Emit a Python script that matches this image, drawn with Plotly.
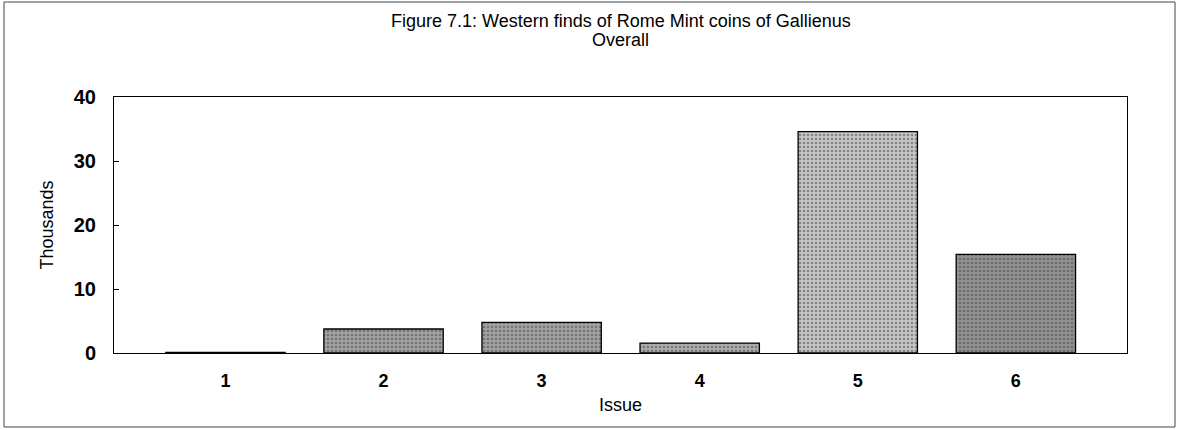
import plotly.graph_objects as go

issues = ["1", "2", "3", "4", "5", "6"]
finds_thousands = [0.1, 3.75, 4.8, 1.55, 34.6, 15.4]
bar_colors = ["#9a9a9a", "#a2a2a2", "#a2a2a2", "#acacac", "#c6c6c6", "#929292"]

title_line1 = "Figure 7.1: Western finds of Rome Mint coins of Gallienus"
title_line2 = "Overall"

font_main = "Arial, Liberation Sans, sans-serif"

fig = go.Figure(
    go.Bar(
        x=issues,
        y=finds_thousands,
        marker=dict(
            color=bar_colors,
            line=dict(color="black", width=1.3),
            pattern=dict(shape=".", fgcolor="#3a3a3a", size=4,
                         solidity=0.35, fillmode="overlay"),
        ),
    )
)

# two-line heading placed as annotations (plot area spans 114..1127 x 97..353 px)
fig.add_annotation(text=title_line1, xref="paper", yref="paper",
                   x=0.5, y=(353 - 21) / 256, xanchor="center", yanchor="middle",
                   showarrow=False, font=dict(family=font_main, size=18, color="black"))
fig.add_annotation(text=title_line2, xref="paper", yref="paper",
                   x=0.5, y=(353 - 40) / 256, xanchor="center", yanchor="middle",
                   showarrow=False, font=dict(family=font_main, size=18, color="black"))

fig.update_layout(
    width=1179,
    height=430,
    margin=dict(l=114, r=52, t=97, b=77),
    paper_bgcolor="white",
    plot_bgcolor="white",
    bargap=0.245,
    showlegend=False,
    xaxis=dict(
        range=[-0.705, 5.703],
        showline=True,
        linecolor="black",
        linewidth=1,
        mirror=True,
        showgrid=False,
        ticks="outside",
        ticklen=0,
        ticklabelstandoff=11,
        tickfont=dict(family=font_main, size=18, color="black", weight="bold"),
        title=dict(text="Issue", standoff=8,
                   font=dict(family=font_main, size=18, color="black")),
    ),
    yaxis=dict(
        range=[0, 40],
        tickvals=[0, 10, 20, 30, 40],
        showline=True,
        linecolor="black",
        linewidth=1,
        mirror=True,
        showgrid=False,
        zeroline=False,
        ticks="inside",
        ticklen=5,
        tickcolor="black",
        ticklabelstandoff=13,
        tickfont=dict(family=font_main, size=20, color="black", weight="bold"),
        title=dict(text="Thousands", standoff=15,
                   font=dict(family=font_main, size=18, color="black")),
    ),
    shapes=[
        dict(
            type="rect",
            xref="paper",
            yref="paper",
            x0=(4 - 114) / 1013,
            x1=(1175 - 114) / 1013,
            y0=(353 - 427) / 256,
            y1=(353 - 2) / 256,
            line=dict(color="#444", width=1),
            fillcolor="rgba(0,0,0,0)",
            layer="below",
        )
    ],
)

fig.write_html("out.html", config={"displayModeBar": False},
               post_script="document.body.style.margin='0';")
